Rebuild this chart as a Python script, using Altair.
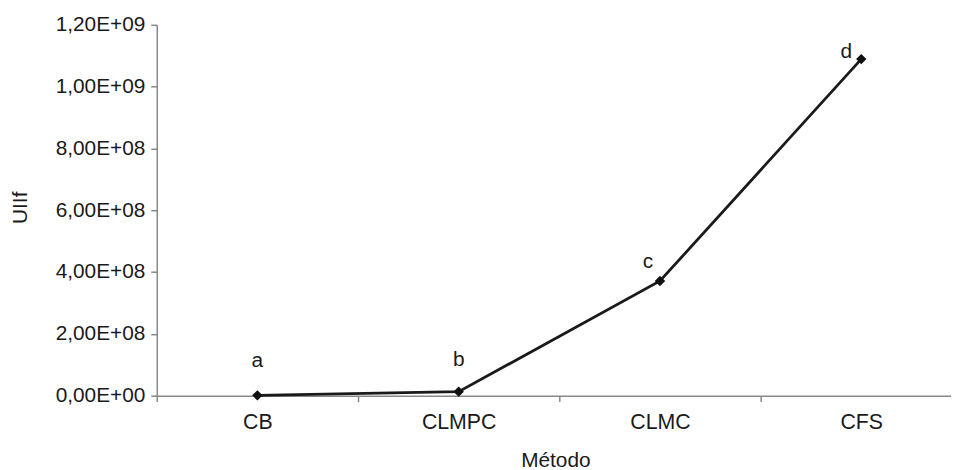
import altair as alt
import pandas as pd

methods = ["CB", "CLMPC", "CLMC", "CFS"]
values = [1.0e6, 1.3e7, 3.71e8, 1.089e9]
letters = ["a", "b", "c", "d"]
y_ticks = [0, 2e8, 4e8, 6e8, 8e8, 1.0e9, 1.2e9]

df = pd.DataFrame({"Método": methods, "UIIf": values, "letra": letters})

FONT = "Liberation Sans"
PLOT_W = 801
STEP = 203  # pixel width of one category band

exp_expr = "floor(log(datum.value)/LN10 + 1e-9)"
label_expr = (
    "datum.value == 0 ? '0,00E+00' : "
    f"replace(format(datum.value / pow(10, {exp_expr}), '.2f'), '.', ',') + 'E+' + "
    f"({exp_expr} < 10 ? '0' : '') + {exp_expr}"
)
methods_js = "[" + ",".join(f"'{m}'" for m in methods) + "]"

x_enc = alt.X(
    "pos:Q",
    scale=alt.Scale(domain=[0, PLOT_W / STEP], nice=False, zero=False),
    axis=alt.Axis(
        title="Método",
        values=list(range(len(methods))),
        labelExpr=f"{methods_js}[datum.value]",
        labelOffset=STEP / 2,
        labelFlush=False,
        labelBound=False,
        labelOverlap=False,
        labelAngle=0,
        labelPadding=10,
        labelFontSize=21.5,
        grid=False,
        titleX=402,
        titleY=65,
        titleBaseline="middle",
        titleAlign="center",
    ),
)

y_enc = alt.Y(
    "UIIf:Q",
    scale=alt.Scale(domain=[0, 1.2e9], nice=False),
    axis=alt.Axis(
        title="UIIf",
        values=y_ticks,
        labelExpr=label_expr,
        grid=False,
        labelPadding=6,
        titleX=-137,
        titleY=184,
        titleAngle=-90,
        titleBaseline="middle",
        titleAlign="center",
    ),
)

base = alt.Chart(df).transform_calculate(
    pos=f"indexof({methods_js}, datum['Método']) + 0.5"
)

line = base.mark_line(color="#1a1a1a", strokeWidth=2.8).encode(x=x_enc, y=y_enc)
pts = base.mark_point(shape="diamond", filled=True, size=110, color="#111111", opacity=1).encode(
    x=x_enc, y=y_enc
)

offsets = {"a": (0, -29), "b": (0, -26), "c": (-12, -13), "d": (-15, -1)}
texts = []
for lt in letters:
    dx, dy = offsets[lt]
    texts.append(
        base.transform_filter(alt.datum.letra == lt)
        .mark_text(font=FONT, fontSize=21, color="#1a1a1a", dx=dx, dy=dy, baseline="alphabetic", align="center")
        .encode(x=x_enc, y=y_enc, text="letra:N")
    )

chart = (
    alt.layer(line, pts, *texts)
    .properties(
        width=PLOT_W,
        height=374,
        autosize=alt.AutoSizeParams(type="none"),
        padding={"left": 150, "top": 15, "right": 0, "bottom": 73},
    )
    .configure_view(stroke=None)
    .configure_axis(
        labelFont=FONT,
        titleFont=FONT,
        labelFontSize=21,
        titleFontSize=21,
        titleFontWeight="normal",
        labelColor="#1a1a1a",
        titleColor="#1a1a1a",
        domainColor="#888888",
        domainWidth=1.5,
        tickColor="#888888",
        tickWidth=1.5,
        tickSize=6,
    )
)

chart.save("out.html", embed_options={"renderer": "svg", "actions": False})
